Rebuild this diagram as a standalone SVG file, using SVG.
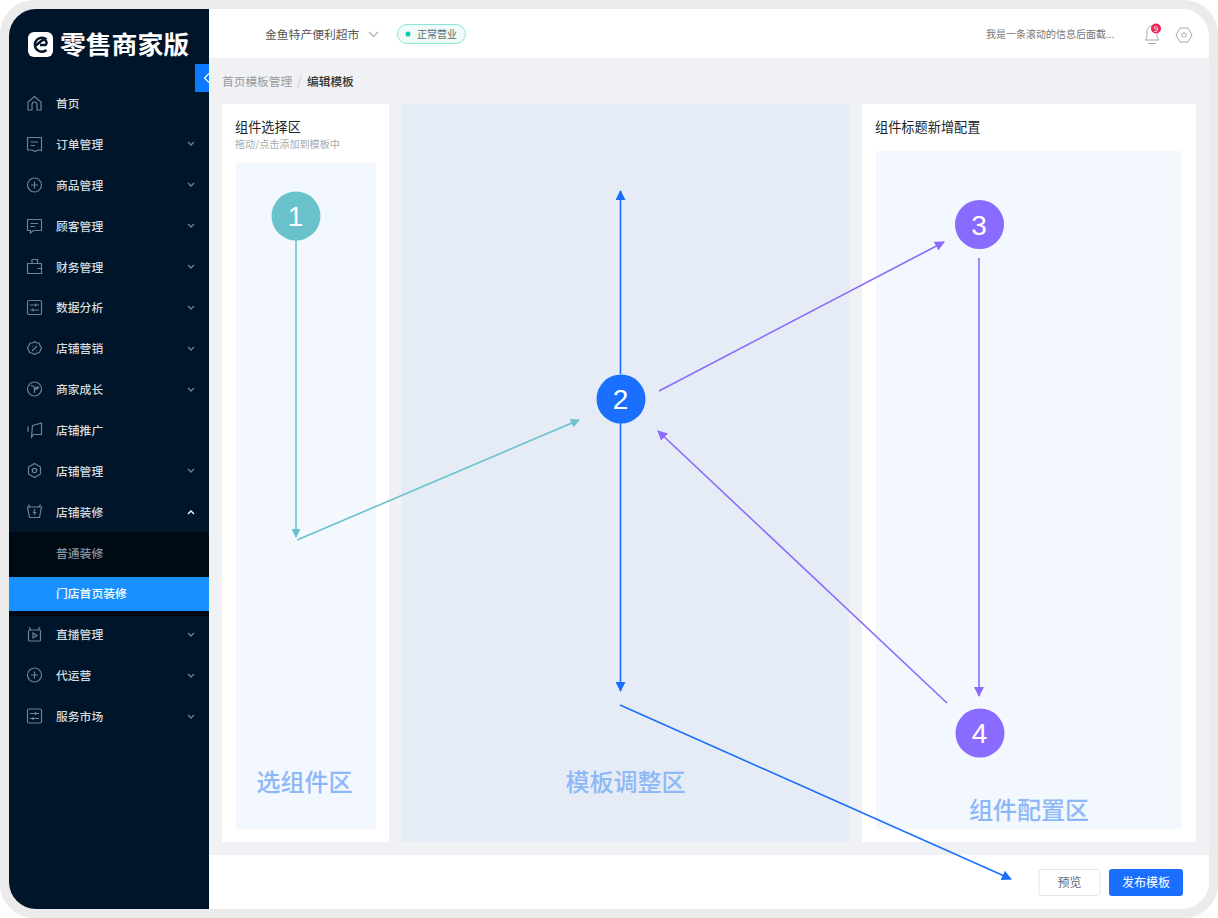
<svg xmlns="http://www.w3.org/2000/svg" width="1218" height="918" viewBox="0 0 1218 918">
<defs>
<style>
text{font-family:"Noto Sans CJK SC","Liberation Sans",sans-serif}
.m{font-size:11.800px;fill:#d5dade;font-weight:500}
.ic{fill:none;stroke:#6f8294;stroke-width:1.2}
.cv{fill:none;stroke:#6f8294;stroke-width:1.3}
.big{font-size:24px;fill:#8db8f7;font-weight:500}
.n{font-family:"Liberation Sans",sans-serif;font-size:28px;fill:#fff;text-anchor:middle}
.t{fill:none;stroke-width:1.6}
</style>
<clipPath id="clipS"><path d="M36 9H209V909H36A27 27 0 0 1 9 882V36A27 27 0 0 1 36 9Z"/></clipPath>
<marker id="aT" viewBox="0 0 10 10" refX="9" refY="5" markerWidth="9" markerHeight="9" markerUnits="userSpaceOnUse" orient="auto"><path d="M0 0L10 5L0 10Z" fill="#69c2cb"/></marker>
<marker id="aB" viewBox="0 0 10 10" refX="9" refY="5" markerWidth="10" markerHeight="10" markerUnits="userSpaceOnUse" orient="auto-start-reverse"><path d="M0 0L10 5L0 10Z" fill="#1a6fff"/></marker>
<marker id="aP" viewBox="0 0 10 10" refX="9" refY="5" markerWidth="10" markerHeight="10" markerUnits="userSpaceOnUse" orient="auto"><path d="M0 0L10 5L0 10Z" fill="#8a6bff"/></marker>
</defs>
<rect width="1218" height="918" fill="#fff"/>
<rect width="1218" height="918" rx="34" fill="#ebebeb"/>
<rect x="9" y="9" width="1200" height="900" rx="27" fill="#f0f1f5"/>
<g id="topbar">
<path d="M209 9H1182A27 27 0 0 1 1209 36V58H209Z" fill="#fff"/>
<text x="265" y="39" font-size="11.800" fill="#555">金鱼特产便利超市</text>
<path d="M369 32l4.500 4.500l4.500-4.500" fill="none" stroke="#aaa" stroke-width="1.100"/>
<rect x="397.500" y="24.500" width="68" height="19" rx="9.500" fill="#f0fcf9" stroke="#8ee6d4"/>
<circle cx="408" cy="34" r="2.500" fill="#0cc9a8"/>
<text x="417" y="38" font-size="10" fill="#666">正常营业</text>
<text x="986" y="38" font-size="10" fill="#777">我是一条滚动的信息后面截...</text>
<path d="M1145 40c2-2 2-3 2-8c0-4 2-6 5-6s5 2 5 6c0 5 0 6 2 8ZM1148 43.500h8" fill="none" stroke="#aaa" stroke-width="1"/>
<circle cx="1156" cy="28.500" r="5" fill="#f5224d"/>
<text x="1156" y="31.500" font-size="8" fill="#fff" text-anchor="middle" font-family="Liberation Sans">9</text>
<path d="M1180 28h8l4 7l-4 7h-8l-4-7Z" fill="none" stroke="#aaa" stroke-width="1"/>
<circle cx="1184" cy="35" r="2.200" fill="none" stroke="#aaa"/>
</g>
<g id="sidebar">
<g clip-path="url(#clipS)">
<rect x="9" y="9" width="200" height="900" fill="#001529"/>
<rect x="9" y="532" width="200" height="84" fill="#000a14"/>
<rect x="9" y="577" width="200" height="34" fill="#1890ff"/>
</g>
<rect x="28" y="32" width="25" height="25" rx="6" fill="#fff"/>
<path d="M46.500 39.500A7 7 0 1 0 46.500 50M34.500 46.500L42 40.500A2.800 2.800 0 0 1 45.500 45H40" fill="none" stroke="#001529" stroke-width="2.400"/>
<text x="60" y="53.500" font-size="25" fill="#fff" font-weight="700" textLength="129" lengthAdjust="spacingAndGlyphs">零售商家版</text>
<rect x="195" y="64" width="14" height="28" fill="#0a78ff"/>
<path d="M209 73.500l-4.500 4.500l4.500 4.500" fill="none" stroke="#fff" stroke-width="1.200"/>
<text class="m" x="56" y="108">首页</text>
<text class="m" x="56" y="149">订单管理</text>
<text class="m" x="56" y="190">商品管理</text>
<text class="m" x="56" y="231">顾客管理</text>
<text class="m" x="56" y="272">财务管理</text>
<text class="m" x="56" y="312">数据分析</text>
<text class="m" x="56" y="353">店铺营销</text>
<text class="m" x="56" y="394">商家成长</text>
<text class="m" x="56" y="435">店铺推广</text>
<text class="m" x="56" y="476">店铺管理</text>
<text class="m" x="56" y="517">店铺装修</text>
<text class="m" x="56" y="558" style="fill:#8b949c">普通装修</text>
<text class="m" x="56" y="598" style="fill:#fff">门店首页装修</text>
<text class="m" x="56" y="639">直播管理</text>
<text class="m" x="56" y="680">代运营</text>
<text class="m" x="56" y="721">服务市场</text>
<path class="cv" d="M188 142l3 3l3-3M188 183l3 3l3-3M188 224l3 3l3-3M188 265l3 3l3-3M188 306l3 3l3-3M188 347l3 3l3-3M188 388l3 3l3-3M188 469l3 3l3-3M188 633l3 3l3-3M188 674l3 3l3-3M188 715l3 3l3-3"/>
<path d="M188 514l3-3l3 3" fill="none" stroke="#fff" stroke-width="1.300"/>
<path class="ic" d="M28 110V102L34.500 96.500L41 102V110H37V104.500A2.500 2.500 0 0 0 32 104.500V110Z"/>
<path class="ic" d="M27.500 137.500H41.500V150.500L38 150L35 151.500L32 150H27.500ZM30.500 142H38M30.500 145.500H35"/>
<circle class="ic" cx="34.500" cy="185" r="7"/><path class="ic" d="M31 185H38M34.500 181.500V188.500"/>
<path class="ic" d="M27.500 219.500H41.500V230.500H33.500L30.500 233V230.500H27.500ZM30.500 223.500H38M30.500 226.500H35"/>
<path class="ic" d="M27.500 263.500H41.500V273.500H27.500ZM32 263.500V259.500H37.500V263.500M37.500 268.500H41.500"/>
<rect class="ic" x="27.500" y="300.500" width="14" height="14" rx="1.500"/><path class="ic" d="M30 305H39M30 310H39M35.500 303.500V306.500M33 308.500V311.500"/>
<path class="ic" d="M34.500 341.500l2 1.500h2.500l1 2.500l1.500 2l-1 2.500l-1 2.500l-2.500.5l-2.500 1.500l-2.500-1.500l-2.500-.5l-1-2.500l-1-2.500l1.500-2l1-2.500h2.500Z"/><path class="ic" d="M32 351L37 346M32 346.500h.8M36.500 350.500h.8"/>
<circle class="ic" cx="34.500" cy="389" r="7"/><path class="ic" d="M30.500 385.500C33 385.500 34.500 386.500 34.500 389V393M34.500 389C35.500 387 37 386.500 38.500 387C38 389 36.500 389.500 34.500 389Z"/>
<path class="ic" d="M32.500 425.500L41.500 423V434.500H33.500L31.500 437ZM28 426.500V432"/>
<path class="ic" d="M34.500 463.500l6 3.500v7l-6 3.500l-6-3.500v-7Z"/><circle class="ic" cx="34.500" cy="470.500" r="2.200"/>
<path class="ic" d="M27.500 507H41.500L39.500 517.500H29.500ZM30 507L28.500 504.500M39 507L40.500 504.500M35 509L33.500 512.500H35.500L34 515"/>
<rect class="ic" x="28.500" y="630" width="12" height="11" rx="1"/><path class="ic" d="M31 630L29 627M38 630L40 627M33 633V638L37 635.500Z"/>
<circle class="ic" cx="34.500" cy="675" r="7"/><path class="ic" d="M31 675H38M34.500 671.500V678.500"/>
<rect class="ic" x="27.500" y="709" width="14" height="14" rx="1.500"/><path class="ic" d="M30 713.500H39M30 718.500H39M35.500 712V715M33 717V720"/>
</g>
<g id="breadcrumb">
<text x="222" y="86" font-size="11.700" fill="#9a9a9a">首页模板管理</text>
<text x="297" y="86" font-size="12" fill="#ccc">/</text>
<text x="307" y="86" font-size="11.700" fill="#333" font-weight="500">编辑模板</text>
</g>
<g id="panel-select">
<rect x="222" y="104" width="167" height="738" fill="#fff"/>
<text x="235" y="132" font-size="13.200" fill="#222">组件选择区</text>
<text x="235" y="148" font-size="10.100" fill="#aaa">拖动/点击添加到模板中</text>
<rect x="236" y="163" width="140" height="666" fill="#f3f7fe"/>
<text class="big" x="256.500" y="791">选组件区</text>
</g>
<g id="panel-template">
<rect x="402" y="104" width="447" height="738" fill="#e6ecf6"/>
<text class="big" x="565.500" y="791">模板调整区</text>
</g>
<g id="panel-config">
<rect x="862" y="104" width="334" height="738" fill="#fff"/>
<text x="875" y="132" font-size="13.200" fill="#222">组件标题新增配置</text>
<rect x="876" y="151" width="306" height="678" fill="#f3f7fe"/>
<text class="big" x="969" y="819">组件配置区</text>
</g>
<g id="footer">
<path d="M209 855H1209V882A27 27 0 0 1 1182 909H209Z" fill="#fff"/>
<rect x="1039" y="869.500" width="61" height="26" rx="3" fill="#fff" stroke="#e3e5e8"/>
<text x="1069.500" y="887" font-size="12" fill="#666" text-anchor="middle">预览</text>
<rect x="1109" y="869" width="74" height="27" rx="3" fill="#1a6fff"/>
<text x="1146" y="887" font-size="12" fill="#fff" text-anchor="middle">发布模板</text>
</g>
<g id="connectors">
<path class="t" d="M296 240V537" stroke="#69c2cb" marker-end="url(#aT)"/>
<path class="t" d="M297 540L579 420" stroke="#69c2cb" marker-end="url(#aT)"/>
<path class="t" d="M620.500 374V191" stroke="#1a6fff" marker-end="url(#aB)"/>
<path class="t" d="M620.500 423V691" stroke="#1a6fff" marker-end="url(#aB)"/>
<path class="t" d="M620 705L1011 879" stroke="#1a6fff" marker-end="url(#aB)"/>
<path class="t" d="M659 391L944 242" stroke="#8a6bff" marker-end="url(#aP)"/>
<path class="t" d="M979 258V696" stroke="#8a6bff" marker-end="url(#aP)"/>
<path class="t" d="M947 703L658 431" stroke="#8a6bff" marker-end="url(#aP)"/>
</g>
<g id="node-1"><circle cx="296" cy="216" r="24.500" fill="#69c2cb"/><text class="n" x="295.500" y="226">1</text></g>
<g id="node-2"><circle cx="621" cy="399" r="24.500" fill="#1a6fff"/><text class="n" x="620.500" y="409">2</text></g>
<g id="node-3"><circle cx="979.500" cy="224.500" r="24.500" fill="#8a6bff"/><text class="n" x="979" y="235">3</text></g>
<g id="node-4"><circle cx="980" cy="733" r="24.500" fill="#8a6bff"/><text class="n" x="979.500" y="743">4</text></g>
</svg>
